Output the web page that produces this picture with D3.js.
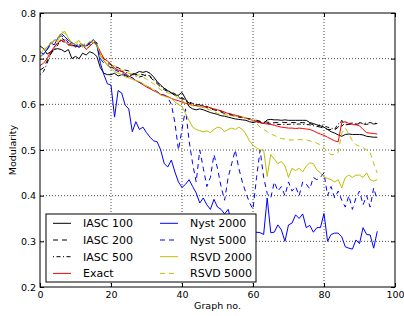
<!DOCTYPE html>
<html>
<head>
<meta charset="utf-8">
<script src="https://cdn.jsdelivr.net/npm/d3@7"></script>
<style>
  body { margin: 0; background: #fff; }
  text { font-family: "DejaVu Sans", sans-serif; }
</style>
</head>
<body>
<div id="chart"></div>
<script>
// graph numbers 0..95
var graphs = d3.range(0, 96);

var xTicks = [0, 20, 40, 60, 80, 100];
var yTicks = [0.2, 0.3, 0.4, 0.5, 0.6, 0.7, 0.8];

var iasc100 = [0.728, 0.722, 0.71, 0.715, 0.72, 0.722, 0.72, 0.715, 0.72, 0.70, 0.705, 0.70, 0.712, 0.708, 0.715, 0.712, 0.705, 0.68,
  0.668, 0.665, 0.665, 0.668, 0.662, 0.665, 0.663, 0.66, 0.665, 0.668, 0.672, 0.67,
  0.672, 0.668, 0.66, 0.65, 0.642, 0.635, 0.63, 0.625, 0.62, 0.62, 0.626, 0.612,
  0.595, 0.59, 0.588, 0.59, 0.588, 0.585, 0.582, 0.58, 0.578, 0.575, 0.574, 0.572,
  0.57, 0.568, 0.567, 0.566, 0.565, 0.562, 0.56, 0.562, 0.56, 0.558, 0.566, 0.567,
  0.566, 0.566, 0.565, 0.566, 0.565, 0.565, 0.565, 0.565, 0.565, 0.565, 0.56, 0.558,
  0.555, 0.553, 0.55, 0.545, 0.54, 0.537, 0.533, 0.53, 0.534, 0.535, 0.534, 0.534,
  0.534, 0.533, 0.53, 0.529, 0.528, 0.528];

var iasc200 = [0.675, 0.68, 0.695, 0.71, 0.725, 0.735, 0.74, 0.735, 0.73, 0.735, 0.725, 0.735, 0.73, 0.725, 0.735, 0.74, 0.735, 0.71,
  0.70, 0.692, 0.686, 0.683, 0.68, 0.676, 0.675, 0.673, 0.668, 0.665, 0.667, 0.665,
  0.662, 0.66, 0.652, 0.645, 0.638, 0.632, 0.628, 0.625, 0.62, 0.615, 0.612, 0.608,
  0.603, 0.60, 0.598, 0.6, 0.596, 0.593, 0.59, 0.588, 0.586, 0.583, 0.58, 0.578,
  0.576, 0.574, 0.572, 0.571, 0.57, 0.568, 0.566, 0.565, 0.563, 0.562, 0.561, 0.56,
  0.56, 0.56, 0.561, 0.56, 0.56, 0.56, 0.56, 0.56, 0.56, 0.559, 0.558, 0.555,
  0.552, 0.55, 0.548, 0.545, 0.545, 0.544, 0.55, 0.565, 0.555, 0.556, 0.557, 0.556,
  0.558, 0.557, 0.556, 0.558, 0.557, 0.558];

var iasc500 = [0.665, 0.672, 0.69, 0.71, 0.72, 0.73, 0.745, 0.74, 0.735, 0.73, 0.725, 0.73, 0.728, 0.735, 0.73, 0.738, 0.73, 0.705,
  0.695, 0.688, 0.682, 0.678, 0.675, 0.672, 0.67, 0.668, 0.665, 0.662, 0.66, 0.662,
  0.665, 0.662, 0.655, 0.648, 0.64, 0.635, 0.63, 0.627, 0.623, 0.618, 0.614, 0.61,
  0.605, 0.602, 0.6, 0.598, 0.598, 0.595, 0.592, 0.59, 0.588, 0.585, 0.583, 0.58,
  0.578, 0.576, 0.574, 0.572, 0.57, 0.568, 0.566, 0.564, 0.562, 0.56, 0.558, 0.557,
  0.557, 0.556, 0.556, 0.556, 0.556, 0.557, 0.556, 0.557, 0.556, 0.556, 0.555, 0.553,
  0.551, 0.556, 0.553, 0.55, 0.548, 0.545, 0.558, 0.552, 0.56, 0.558, 0.559, 0.558,
  0.56, 0.558, 0.559, 0.56, 0.558, 0.559];

var exact = [0.685, 0.69, 0.70, 0.715, 0.725, 0.735, 0.74, 0.738, 0.73, 0.728, 0.73, 0.725, 0.73, 0.72, 0.727, 0.735, 0.73, 0.715,
  0.70, 0.695, 0.688, 0.68, 0.675, 0.672, 0.668, 0.662, 0.658, 0.652, 0.648, 0.643,
  0.638, 0.634, 0.63, 0.626, 0.622, 0.62, 0.617, 0.613, 0.61, 0.608, 0.605, 0.602,
  0.60, 0.598, 0.597, 0.595, 0.594, 0.596, 0.592, 0.59, 0.588, 0.586, 0.583, 0.58,
  0.578, 0.576, 0.574, 0.572, 0.57, 0.567, 0.565, 0.562, 0.56, 0.558, 0.557, 0.556,
  0.554, 0.552, 0.55, 0.549, 0.548, 0.548, 0.547, 0.548, 0.547, 0.546, 0.545, 0.542,
  0.538, 0.535, 0.532, 0.528, 0.524, 0.52, 0.518, 0.56, 0.562, 0.558, 0.556, 0.555,
  0.553, 0.545, 0.538, 0.537, 0.536, 0.535];

var nyst2000 = [0.715, 0.71, 0.72, 0.735, 0.73, 0.745, 0.755, 0.748, 0.74, 0.735, 0.73, 0.725, 0.73, 0.728, 0.733, 0.742, 0.73, 0.69,
  0.665, 0.645, 0.642, 0.572, 0.63, 0.625, 0.598, 0.59, 0.54, 0.562, 0.545, 0.55,
  0.538, 0.528, 0.52, 0.518, 0.5, 0.47, 0.463, 0.478, 0.452, 0.43, 0.418, 0.425,
  0.435, 0.42, 0.406, 0.384, 0.395, 0.38, 0.37, 0.392, 0.375, 0.37, 0.36, 0.37,
  0.34, 0.33, 0.32, 0.30, 0.29, 0.30, 0.31, 0.32, 0.319, 0.315, 0.395, 0.319,
  0.32, 0.336, 0.325, 0.30, 0.336, 0.34, 0.358, 0.35, 0.36, 0.33, 0.335, 0.32,
  0.33, 0.33, 0.361, 0.30, 0.315, 0.318, 0.318, 0.31, 0.288, 0.285, 0.283, 0.303,
  0.295, 0.33, 0.315, 0.314, 0.285, 0.322];

var nyst5000 = [0.705, 0.71, 0.72, 0.73, 0.74, 0.745, 0.75, 0.745, 0.735, 0.73, 0.728, 0.732, 0.73, 0.725, 0.735, 0.74, 0.73, 0.70,
  0.69, 0.685, 0.68, 0.676, 0.672, 0.668, 0.665, 0.662, 0.658, 0.652, 0.648, 0.645,
  0.64, 0.636, 0.632, 0.628, 0.622, 0.62, 0.615, 0.6, 0.56, 0.5, 0.545, 0.59,
  0.52, 0.47, 0.43, 0.5, 0.46, 0.42, 0.44, 0.49, 0.46, 0.42, 0.39, 0.44,
  0.47, 0.5, 0.46, 0.43, 0.406, 0.385, 0.37, 0.44, 0.5, 0.44, 0.405, 0.395,
  0.43, 0.41, 0.42, 0.40, 0.43, 0.41, 0.42, 0.40, 0.43, 0.425, 0.415, 0.44,
  0.435, 0.44, 0.45, 0.40, 0.42, 0.395, 0.41, 0.39, 0.375, 0.40, 0.37, 0.395,
  0.41, 0.38, 0.40, 0.375, 0.417, 0.39];

var rsvd2000 = [0.71, 0.72, 0.725, 0.735, 0.74, 0.738, 0.755, 0.76, 0.745, 0.73, 0.735, 0.74, 0.725, 0.73, 0.738, 0.735, 0.73, 0.71,
  0.695, 0.685, 0.678, 0.672, 0.668, 0.665, 0.66, 0.658, 0.655, 0.652, 0.65, 0.645,
  0.64, 0.636, 0.632, 0.626, 0.62, 0.618, 0.615, 0.613, 0.605, 0.6, 0.595, 0.58,
  0.565, 0.55, 0.545, 0.542, 0.54, 0.542, 0.538, 0.545, 0.55, 0.548, 0.54, 0.545,
  0.548, 0.545, 0.55, 0.545, 0.535, 0.52, 0.51, 0.505, 0.5, 0.5, 0.442, 0.49,
  0.48, 0.47, 0.475, 0.465, 0.44, 0.46, 0.455, 0.46, 0.452, 0.465, 0.472, 0.47,
  0.456, 0.45, 0.44, 0.438, 0.435, 0.43, 0.435, 0.417, 0.44, 0.445, 0.44, 0.445,
  0.445, 0.44, 0.45, 0.435, 0.432, 0.435];

var rsvd5000 = [0.70, 0.715, 0.725, 0.73, 0.74, 0.745, 0.76, 0.755, 0.745, 0.735, 0.73, 0.738, 0.73, 0.72, 0.73, 0.74, 0.735, 0.705,
  0.695, 0.688, 0.682, 0.685, 0.678, 0.675, 0.672, 0.668, 0.666, 0.662, 0.665, 0.66,
  0.655, 0.65, 0.645, 0.638, 0.632, 0.628, 0.625, 0.623, 0.62, 0.612, 0.607, 0.603,
  0.6, 0.597, 0.595, 0.596, 0.594, 0.59, 0.587, 0.585, 0.58, 0.578, 0.578, 0.576,
  0.575, 0.574, 0.573, 0.572, 0.57, 0.568, 0.565, 0.558, 0.55, 0.545, 0.54, 0.535,
  0.532, 0.528, 0.525, 0.524, 0.522, 0.522, 0.522, 0.523, 0.522, 0.522, 0.52, 0.518,
  0.515, 0.51, 0.505, 0.495, 0.49, 0.49, 0.495, 0.537, 0.548, 0.535, 0.52, 0.512,
  0.508, 0.505, 0.5, 0.495, 0.47, 0.45];

var series = [
  {name: "IASC 100", values: iasc100, color: "#000000", dash: null},
  {name: "IASC 200", values: iasc200, color: "#000000", dash: "5,4"},
  {name: "IASC 500", values: iasc500, color: "#000000", dash: "1,2.5,4,2.5"},
  {name: "Exact", values: exact, color: "#ff0000", dash: null},
  {name: "Nyst 2000", values: nyst2000, color: "#0000ff", dash: null},
  {name: "Nyst 5000", values: nyst5000, color: "#0000ff", dash: "5,4"},
  {name: "RSVD 2000", values: rsvd2000, color: "#bfbf00", dash: null},
  {name: "RSVD 5000", values: rsvd5000, color: "#bfbf00", dash: "5,4"}
];

var margin = {top: 13, right: 9, bottom: 29, left: 40},
    width = 404 - margin.left - margin.right,
    height = 316 - margin.top - margin.bottom;

var root = d3.select("#chart")
  .append("svg")
    .attr("width", 404)
    .attr("height", 316);

var svg = root.append("g")
    .attr("transform", "translate(" + margin.left + "," + margin.top + ")");

var x = d3.scaleLinear().domain([0, 100]).range([0, width]);
var y = d3.scaleLinear().domain([0.2, 0.8]).range([height, 0]);

// dotted grid
svg.append("g")
  .selectAll("line")
  .data(xTicks.slice(1, -1))
  .enter().append("line")
    .attr("x1", function(d) { return x(d); })
    .attr("x2", function(d) { return x(d); })
    .attr("y1", 0).attr("y2", height)
    .attr("stroke", "#000").attr("stroke-width", 0.7)
    .attr("stroke-dasharray", "1,2");
svg.append("g")
  .selectAll("line")
  .data(yTicks.slice(1, -1))
  .enter().append("line")
    .attr("y1", function(d) { return y(d); })
    .attr("y2", function(d) { return y(d); })
    .attr("x1", 0).attr("x2", width)
    .attr("stroke", "#000").attr("stroke-width", 0.7)
    .attr("stroke-dasharray", "1,2");

// lines
var line = d3.line()
  .x(function(d, i) { return x(graphs[i]); })
  .y(function(d) { return y(d); });

svg.append("g")
  .selectAll("path")
  .data(series)
  .enter().append("path")
    .attr("d", function(d) { return line(d.values); })
    .attr("fill", "none")
    .attr("stroke", function(d) { return d.color; })
    .attr("stroke-width", 1)
    .attr("stroke-dasharray", function(d) { return d.dash; });

// axes, ticks pointing inward
var fmtY = d3.format(".1f");
var bottom = svg.append("g")
  .attr("transform", "translate(0," + height + ")")
  .call(d3.axisBottom(x).tickValues(xTicks).tickSize(-4).tickPadding(4));
var left = svg.append("g")
  .call(d3.axisLeft(y).tickValues(yTicks).tickFormat(fmtY).tickSize(-4).tickPadding(4));
svg.append("g")
  .call(d3.axisTop(x).tickValues(xTicks).tickSize(-4).tickFormat(""));
svg.append("g")
  .attr("transform", "translate(" + width + ",0)")
  .call(d3.axisRight(y).tickValues(yTicks).tickSize(-4).tickFormat(""));

svg.selectAll(".domain").remove();
svg.selectAll(".tick line").attr("stroke", "#000");
svg.selectAll(".tick text")
  .attr("fill", "#000")
  .style("font-size", "9.5px")
  .style("font-family", "DejaVu Sans");

// frame
svg.append("rect")
  .attr("width", width).attr("height", height)
  .attr("fill", "none").attr("stroke", "#000").attr("stroke-width", 1);

// axis labels
root.append("text")
  .attr("x", margin.left + width / 2)
  .attr("y", 309)
  .attr("text-anchor", "middle")
  .style("font-size", "9.5px")
  .text("Graph no.");
root.append("text")
  .attr("transform", "translate(16," + (margin.top + height / 2) + ") rotate(-90)")
  .attr("text-anchor", "middle")
  .style("font-size", "9.5px")
  .text("Modularity");

// ----- LEGEND -----
var legend = root.append("g").attr("transform", "translate(46,214)");
legend.append("rect")
  .attr("width", 210).attr("height", 68)
  .attr("fill", "#fff").attr("stroke", "#000").attr("stroke-width", 1);

var item = legend.selectAll(".legend")
  .data(series)
  .enter().append("g")
    .attr("class", "legend")
    .attr("transform", function(d, i) {
      return "translate(" + (Math.floor(i / 4) * 107) + "," + (9.3 + (i % 4) * 16.7) + ")";
    });

item.append("line")
  .attr("x1", 7).attr("x2", 25)
  .attr("stroke", function(d) { return d.color; })
  .attr("stroke-width", 1)
  .attr("stroke-dasharray", function(d) { return d.dash; });

item.append("text")
  .attr("x", 37)
  .attr("dy", "0.36em")
  .style("font-size", "11px")
  .text(function(d) { return d.name; });
</script>
</body>
</html>
